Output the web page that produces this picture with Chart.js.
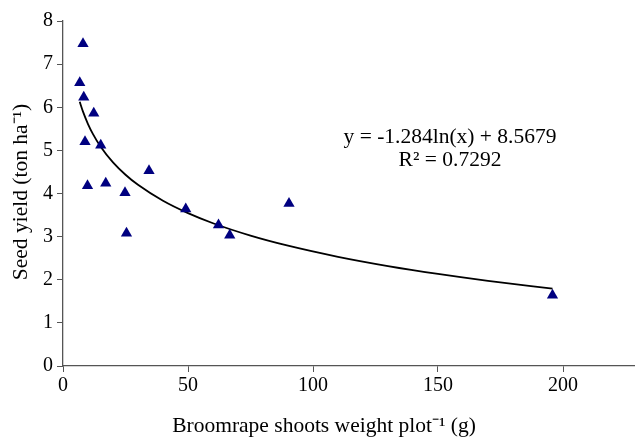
<!DOCTYPE html>
<html>
<head>
<meta charset="utf-8">
<script src="https://cdn.jsdelivr.net/npm/chart.js@4.4.0/dist/chart.umd.min.js"></script>
<style>
  html, body { margin: 0; padding: 0; background: #fff; }
  #wrap { width: 635px; height: 437px; }
</style>
</head>
<body>
<div id="wrap"><canvas id="myChart" width="635" height="437"></canvas></div>
<script>
// broomrape shoot weight (g per plot) vs seed yield (ton/ha)
var shootWeight = [8.0, 6.7, 8.3, 12.3, 8.8, 15.1, 9.8, 17.1, 24.8, 34.4, 25.4, 49.1, 62.2, 66.7, 90.4, 195.8];
var seedYield   = [7.47, 6.57, 6.23, 5.86, 5.20, 5.12, 4.18, 4.24, 4.02, 4.53, 3.08, 3.64, 3.27, 3.03, 3.77, 1.64];

// logarithmic trendline as printed on the chart
var trendA = -1.284;
var trendB = 8.5679;
var trendX = [6.7, 8, 10, 12, 15, 20, 25, 30, 40, 50, 60, 75, 90, 110, 130, 150, 170, 195.8];

var xTicks = [0, 50, 100, 150, 200];
var yTicks = [0, 1, 2, 3, 4, 5, 6, 7, 8];

var points = shootWeight.map(function (x, i) { return { x: x, y: seedYield[i] }; });
var trend = trendX.map(function (x) { return { x: x, y: trendA * Math.log(x) + trendB }; });

var serif = 'Liberation Serif, Times New Roman, serif';
var axisColor = '#555555';

// axis titles and the trendline equation
var chartText = {
    id: 'chartText',
    afterDraw: function (chart) {
        var c = chart.ctx;
        c.save();
        c.fillStyle = '#000';
        c.font = '21.5px ' + serif;
        c.textAlign = 'center';
        c.textBaseline = 'alphabetic';
        c.fillText('y = -1.284ln(x) + 8.5679', 450, 143);
        c.fillText('R\u00B2 = 0.7292', 450, 166);
        c.fillText('Broomrape shoots weight plot\u207B\u00B9 (g)', 324, 432);
        c.translate(27, 192);
        c.rotate(-Math.PI / 2);
        c.fillText('Seed yield (ton ha\u207B\u00B9)', 0, 0);
        c.restore();
    }
};

var ctx = document.getElementById('myChart').getContext('2d');
var myChart = new Chart(ctx, {
    type: 'scatter',
    data: {
        datasets: [{
            label: 'Seed yield',
            data: points,
            pointStyle: 'triangle',
            pointRadius: 6.5,
            pointHoverRadius: 6.5,
            backgroundColor: '#000080',
            borderColor: '#000080',
            borderWidth: 0,
            order: 1
        }, {
            label: 'Log trend',
            type: 'line',
            data: trend,
            borderColor: '#000',
            borderWidth: 1.8,
            pointRadius: 0,
            tension: 0.4,
            cubicInterpolationMode: 'monotone',
            fill: false,
            order: 2
        }]
    },
    options: {
        responsive: false,
        animation: false,
        layout: { autoPadding: false, padding: { top: 21, right: 0, left: 0, bottom: 0 } },
        plugins: {
            legend: { display: false },
            tooltip: { enabled: false }
        },
        scales: {
            x: {
                type: 'linear',
                min: 0,
                max: 228.8,
                afterBuildTicks: function (scale) {
                    scale.ticks = xTicks.map(function (v) { return { value: v }; });
                },
                afterFit: function (scale) {
                    scale.height = 71;
                    scale.paddingLeft = 0;
                    scale.paddingRight = 0;
                },
                ticks: {
                    color: '#000',
                    font: { family: serif, size: 20 },
                    padding: 2,
                    maxRotation: 0
                },
                grid: {
                    display: true,
                    drawOnChartArea: false,
                    drawTicks: true,
                    tickLength: 6,
                    color: axisColor
                },
                border: { display: true, color: axisColor, width: 1.3 }
            },
            y: {
                type: 'linear',
                min: 0,
                max: 8,
                afterBuildTicks: function (scale) {
                    scale.ticks = yTicks.map(function (v) { return { value: v }; });
                },
                afterFit: function (scale) {
                    scale.width = 63;
                    scale.paddingTop = 0;
                    scale.paddingBottom = 0;
                },
                ticks: {
                    color: '#000',
                    font: { family: serif, size: 20 },
                    padding: 4
                },
                grid: {
                    display: true,
                    drawOnChartArea: false,
                    drawTicks: true,
                    tickLength: 6,
                    color: axisColor
                },
                border: { display: true, color: axisColor, width: 1.3 }
            }
        }
    },
    plugins: [chartText]
});
</script>
</body>
</html>
